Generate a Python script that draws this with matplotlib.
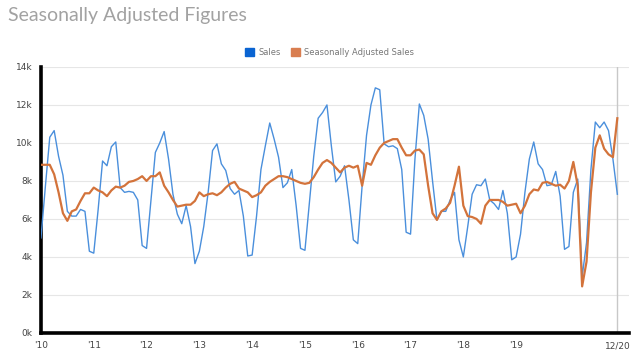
import numpy as np
import matplotlib.pyplot as plt
from matplotlib.patches import Patch

# monthly values, Jan 2010 .. Dec 2020 (in thousands)
sales = [
    5.0, 7.7, 10.3, 10.65, 9.3, 8.3, 6.4, 6.15, 6.15, 6.5, 6.4, 4.3,
    4.2, 6.5, 9.05, 8.8, 9.8, 10.05, 7.65, 7.4, 7.45, 7.4, 7.0, 4.6,
    4.45, 7.0, 9.5, 10.0, 10.6, 9.15, 7.3, 6.25, 5.75, 6.7, 5.6, 3.65,
    4.3, 5.6, 7.4, 9.6, 9.95, 8.9, 8.55, 7.6, 7.3, 7.5, 6.15, 4.05,
    4.1, 6.15, 8.6, 9.85, 11.05, 10.2, 9.25, 7.65, 7.9, 8.6, 6.7, 4.45,
    4.35, 6.85, 9.3, 11.3, 11.6, 12.0, 9.85, 7.95, 8.25, 8.8, 7.0, 4.9,
    4.7, 7.75, 10.4, 12.0, 12.9, 12.8, 9.95, 9.8, 9.85, 9.7, 8.6, 5.3,
    5.2, 9.15, 12.05, 11.45, 10.2, 8.0, 5.95, 6.4, 6.4, 7.0, 7.4, 4.9,
    4.0, 5.6, 7.3, 7.8, 7.75, 8.1, 7.0, 6.8, 6.5, 7.5, 6.3, 3.85,
    4.0, 5.2, 7.4, 9.15, 10.05, 8.9, 8.6, 7.75, 7.8, 8.5, 7.2, 4.4,
    4.55, 7.4, 8.1, 2.95, 4.75, 8.6, 11.1, 10.8, 11.1, 10.65, 9.15, 7.3,
]
adjusted = [
    8.85, 8.85, 8.85, 8.35, 7.4, 6.3, 5.9, 6.4, 6.5, 6.95, 7.35, 7.35,
    7.65, 7.5, 7.4, 7.2, 7.5, 7.7, 7.65, 7.75, 7.95, 8.0, 8.1, 8.25,
    8.0, 8.25, 8.25, 8.45, 7.75, 7.4, 7.0, 6.65, 6.7, 6.75, 6.75, 6.95,
    7.4, 7.2, 7.3, 7.35, 7.25, 7.4, 7.65, 7.85, 7.95, 7.6, 7.5, 7.4,
    7.15, 7.25, 7.4, 7.75, 7.95, 8.1, 8.25, 8.25, 8.2, 8.1, 8.0, 7.9,
    7.85, 7.9, 8.2, 8.6, 8.95, 9.1, 8.95, 8.7, 8.45, 8.7, 8.8, 8.7,
    8.8, 7.75, 8.95, 8.85, 9.35, 9.75, 10.0, 10.1, 10.2, 10.2, 9.75, 9.35,
    9.35, 9.6, 9.65, 9.4, 7.75, 6.3, 5.95, 6.4, 6.55, 6.85, 7.75, 8.75,
    6.7, 6.15, 6.1, 6.0, 5.75, 6.7, 7.0, 7.0, 7.0, 6.9, 6.7, 6.75,
    6.8, 6.3, 6.7, 7.3, 7.55, 7.5, 7.9, 7.95, 7.85, 7.75, 7.8, 7.6,
    8.0, 9.0, 7.75, 2.45, 3.75, 7.4, 9.75, 10.4, 9.7, 9.4, 9.25, 11.3,
]
year_ticks = ["'10", "'11", "'12", "'13", "'14", "'15", "'16", "'17", "'18", "'19"]
last_tick = "12/20"
y_ticks = [0, 2, 4, 6, 8, 10, 12, 14]

blue_line = '#4a8fdc'
orange_line = '#d3733b'
blue_box = '#0a64d2'
orange_box = '#d97e50'
text_grey = '#444444'

x = 2010 + np.arange(len(sales)) / 12.0
x_last = 2010 + (len(sales) - 1) / 12.0

fig = plt.figure(figsize=(6.4, 3.58), dpi=100)
ax = fig.add_axes([0.064, 0.070, 0.919, 0.743])

ax.plot(x, sales, color=blue_line, lw=1.0, zorder=3)
ax.plot(x, adjusted, color=orange_line, lw=1.6, zorder=4)
ax.axvline(x_last, color='#c8c8c8', lw=1.0, zorder=2)

ax.set_xlim(2010, 2021.14)
ax.set_ylim(0, 14)
ax.set_yticks(y_ticks)
ax.set_yticklabels(['{:}k'.format(v) for v in y_ticks])
ax.set_xticks(list(range(2010, 2020)) + [x_last])
ax.set_xticklabels(year_ticks + [last_tick])
ax.tick_params(axis='both', length=0, labelsize=6.5, labelcolor=text_grey)
ax.tick_params(axis='x', pad=6)
ax.tick_params(axis='y', pad=6)

ax.yaxis.grid(True, color='#e6e6e6', lw=0.8)
ax.set_axisbelow(True)
for side in ['top', 'right']:
    ax.spines[side].set_visible(False)
for side in ['left', 'bottom']:
    ax.spines[side].set_linewidth(2.6)
    ax.spines[side].set_color('black')

fig.text(0.012, 0.94, 'Seasonally Adjusted Figures', fontsize=14, color='#a2a2a2',
         family=['Lato', 'DejaVu Sans'], va='baseline', ha='left')

handles = [Patch(color=blue_box, label='Sales'),
           Patch(color=orange_box, label='Seasonally Adjusted Sales')]
leg = fig.legend(handles=handles, loc='center', bbox_to_anchor=(0.515, 0.853), ncol=2,
                 frameon=False, fontsize=6, handlelength=1.1, handleheight=1.1,
                 handletextpad=0.5, columnspacing=1.2)
for t in leg.get_texts():
    t.set_color('#777777')

fig.savefig('out.png', dpi=100)
